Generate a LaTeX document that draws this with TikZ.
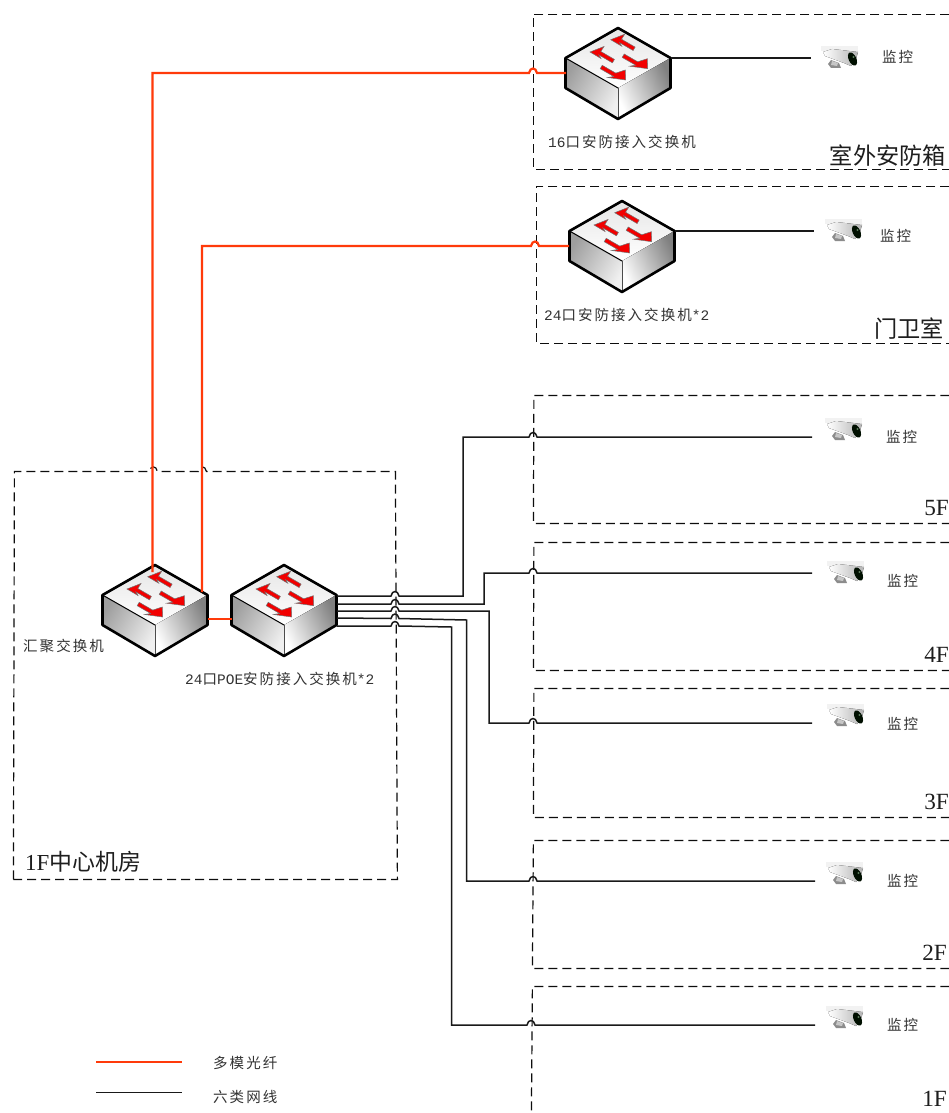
\documentclass[tikz,border=0pt]{standalone}
\usepackage{fontspec}
\usetikzlibrary{arrows.meta,shapes.geometric}
\setmainfont{Liberation Serif}
\newfontfamily\cjkl[LetterSpace=14]{Noto Sans CJK SC}
\newfontfamily\cjkb{Noto Sans CJK SC}
\newfontfamily\latm{Liberation Mono}
\definecolor{fiber}{HTML}{FF3A0A}
\definecolor{txt}{HTML}{333333}
\definecolor{txtb}{HTML}{1E1E1E}
\tikzset{
  zone/.style={draw=black!95,line width=1.2pt,dash pattern=on 9pt off 5pt,xshift=0.4pt,yshift=-0.4pt},
  fiberline/.style={draw=fiber,line width=2.2pt,line join=miter},
  catline/.style={draw=black!90,line width=1.5pt,line join=miter},
  lab/.style={anchor=west,inner sep=0pt,text=txt,font=\fontsize{14.5}{16}\selectfont\cjkl},
  biglab/.style={anchor=east,inner sep=0pt,text=txtb,font=\fontsize{23.2}{24}\selectfont\cjkb},
  swarrowshape/.style={fill=red!95!black,draw=black!55,line width=0.5pt,line join=miter},
  camnode/.style={anchor=north west,inner sep=0pt,minimum width=39pt,minimum height=24pt}
}
\newcommand{\hj}[2]{-- (#1-4,#2) .. controls (#1-3,#2-6) and (#1+3,#2-6) .. (#1+4,#2)}
% switch icon: #1 name, #2 x of top vertex, #3 y of top vertex
\newcommand{\switchicon}[3]{%
  \begin{scope}[shift={(#2,#3)}]
    \fill[top color=black!10,bottom color=white] (0,0) -- (52.5,30) -- (0,60) -- (-52.5,30) -- cycle;
    \fill[left color=black!38,right color=black!6,shading angle=60] (-52.5,30) -- (0,60) -- (0,91) -- (-52.5,60) -- cycle;
    \fill[left color=white,right color=black!50,shading angle=115] (0,60) -- (52.5,30) -- (52.5,60) -- (0,91) -- cycle;
    \draw[line width=1pt,draw=black] (-52.5,30) -- (0,60);
    \draw[line width=1pt,draw=black!70] (0,60) -- (0,91);
    \draw[line width=2.6pt,line join=round,draw=black] (0,0) -- (52.5,30) -- (52.5,60) -- (0,91) -- (-52.5,60) -- (-52.5,30) -- cycle;
    \foreach \tx/\ty in {-7.3/11.7,-28/24}{
      \draw[swarrowshape,shift={(\tx,\ty)}] (0,0) -- (14,-5.5) -- (10.8,-0.5) -- (24.4,7.4) -- (22.4,10.8) -- (8.8,2.9) -- (11,6.5) -- cycle;
    }
    \foreach \tx/\ty in {29.7/40.7,7.7/52}{
      \draw[swarrowshape,shift={(\tx,\ty)}] (0,0) -- (-0.4,-10) -- (-10,-6.9) -- (-23.5,-14.7) -- (-25.5,-11.3) -- (-12,-3.5) -- (-18,-2.5) -- cycle;
    }
    \coordinate (#1) at (0,45);
  \end{scope}}
% camera icon: #1 name, #2 left, #3 top
\newcommand{\cameraicon}[3]{%
  \node[camnode] (#1) at (#2,#3) {};
  \begin{scope}[shift={(#2,#3)}]
    \fill[black!5] (1,1) rectangle (38,6);
    \fill[black!45] (11,15) -- (19,18) -- (21,23) -- (11,23) -- (8,19) -- cycle;
    \fill[black!22] (12,16) -- (18,18) -- (17,21) -- (11,20) -- cycle;
    \fill[left color=white,right color=black!30] (3,7) -- (12,4) -- (38,7) -- (36,14) -- (31,21) -- (24,18) -- (5,11) -- cycle;
    \fill[black!85!green!40!black,rotate around={25:(32.5,14)}] (32.5,14) ellipse (3.8pt and 7pt);
    \fill[black!60!green!30!gray] (33.5,12) circle (1.2pt);
  \end{scope}}
\begin{document}
\begin{tikzpicture}[x=1pt,y=-1pt]
\useasboundingbox (0,0) rectangle (949,1113);
\fill[white] (0,0) rectangle (949,1113);

% dashed zones
\draw[zone] (949,14) -- (533,14) -- (533,169) -- (949,169);
\draw[zone] (949,186) -- (536,186) -- (536,343) -- (949,343);
\draw[zone] (949,395) -- (533.5,395) -- (533,523) -- (949,523);
\draw[zone] (949,542) -- (533.5,542) -- (533,670) -- (949,670);
\draw[zone] (949,688) -- (533.5,688) -- (533,817) -- (949,817);
\draw[zone] (949,840) -- (533,840) -- (532,968) -- (949,968);
\draw[zone] (949,986) -- (532,986) -- (531,1113);
\draw[zone] (13,879) -- (14,471) \hj{153}{471} \hj{202}{471} -- (395,471) -- (397,879) -- cycle;

% switches
\switchicon{swa}{618}{28}
\switchicon{swb}{622}{201}
\switchicon{swc}{155}{565}
\switchicon{swd}{284}{565}

% cameras
\cameraicon{cama}{820}{45}
\cameraicon{camb}{824}{218}
\cameraicon{camc}{824}{417}
\cameraicon{camd}{826}{560}
\cameraicon{came}{826}{703}
\cameraicon{camf}{825}{861}
\cameraicon{camg}{825}{1005}

% connector ends
\coordinate (pa) at (566,73);
\coordinate (qa) at (671,58);
\coordinate (ca) at (811,58);
\coordinate (pb) at (569,246);
\coordinate (qb) at (675,231);
\coordinate (cb) at (814,231);
\coordinate (uc1) at (152.5,572);
\coordinate (uc2) at (202,592);
\coordinate (rc) at (208,619);
\coordinate (ld) at (232,619);
\coordinate (d1) at (337,596);
\coordinate (d2) at (337,604);
\coordinate (d3) at (337,611);
\coordinate (d4) at (337,618);
\coordinate (d5) at (337,626);
\coordinate (c3) at (812,437);
\coordinate (c4) at (812,573);
\coordinate (c5) at (812,723);
\coordinate (c6) at (815,881);
\coordinate (c7) at (815,1025);

% fiber
\draw[fiberline] (uc1) -- (152.5,73) \hj{533}{73} -- (pa);
\draw[fiberline] (uc2) -- (202,246) \hj{535}{246} -- (pb);
\draw[fiberline] (rc) -- (ld);

% cat6
\draw[catline] (qa) -- (ca);
\draw[catline] (qb) -- (cb);
\draw[catline] (d1) \hj{395}{596} -- (463,596) -- (463,437) \hj{533}{437} -- (c3);
\draw[catline] (d2) \hj{395}{604} -- (484,604) -- (484,573) \hj{533}{573} -- (c4);
\draw[catline] (d3) \hj{395}{611} -- (489,611) -- (489,723) \hj{533}{723} -- (c5);
\draw[catline] (d4) \hj{395}{618.5} -- (466.5,620) -- (466.5,881) \hj{533}{881} -- (c6);
\draw[catline] (d5) \hj{395}{626} -- (451.5,627) -- (451.5,1025) \hj{531}{1025} -- (c7);

% labels
\node[lab] (la) at (548,142) {{\latm 16}口安防接入交换机};
\node[lab] (lb) at (544,315) {{\latm 24}口安防接入交换机{\latm *2}};
\node[lab] (lc) at (23,646) {汇聚交换机};
\node[lab] (ld2) at (185,679) {{\latm 24}口{\latm POE}安防接入交换机{\latm *2}};
\node[biglab] (za) at (946,156) {室外安防箱};
\node[biglab] (zb) at (944,329) {门卫室};
\node[biglab] (zc) at (949,508) {\fontspec{Liberation Serif}5F};
\node[biglab] (zd) at (949,655) {\fontspec{Liberation Serif}4F};
\node[biglab] (ze) at (949,802) {\fontspec{Liberation Serif}3F};
\node[biglab] (zf) at (947,953) {\fontspec{Liberation Serif}2F};
\node[biglab] (zg) at (947,1099) {\fontspec{Liberation Serif}1F};
\node[biglab,anchor=west,font=\fontsize{22.9}{24}\selectfont\cjkb] (zh) at (25,862) {{\fontspec{Liberation Serif}1F}中心机房};
\node[lab] (ma) at (882,57) {监控};
\node[lab] (mb) at (880,236) {监控};
\node[lab] (mc) at (886,437) {监控};
\node[lab] (md) at (887,581) {监控};
\node[lab] (me) at (887,724) {监控};
\node[lab] (mf) at (887,881) {监控};
\node[lab] (mg) at (887,1025) {监控};

% legend
\coordinate (lga) at (96,1062);
\coordinate (lgb) at (182,1062);
\coordinate (lgc) at (96,1092.5);
\coordinate (lgd) at (182,1092.5);
\draw[fiberline] (lga) -- (lgb);
\draw[catline] (lgc) -- (lgd);
\node[lab] (lt1) at (213,1063) {多模光纤};
\node[lab] (lt2) at (213,1097) {六类网线};
\end{tikzpicture}
\end{document}
